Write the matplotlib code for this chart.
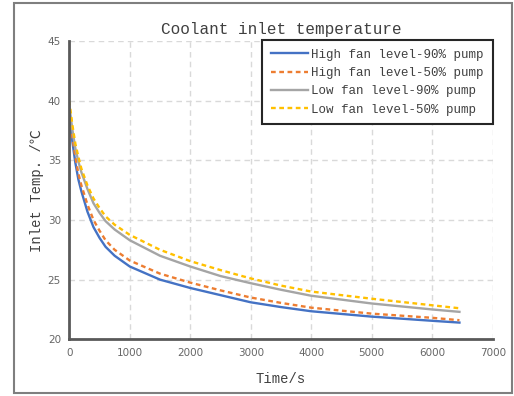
import matplotlib.pyplot as plt
from matplotlib.patches import Rectangle

# time points (s) and inlet temperatures
t = [0, 50, 100, 150, 200, 300, 400, 500, 600, 750, 1000, 1500, 2000, 2500, 3000, 3500, 4000, 5000, 6000, 6450]
high_90 = [39.0, 36.6, 34.8, 33.4, 32.4, 30.7, 29.4, 28.5, 27.75, 27.0, 26.1, 25.0, 24.3, 23.7, 23.1, 22.7, 22.35, 21.9, 21.55, 21.4]
high_50 = [39.3, 37.0, 35.3, 33.9, 32.9, 31.3, 30.0, 29.1, 28.3, 27.5, 26.6, 25.5, 24.75, 24.1, 23.5, 23.05, 22.65, 22.15, 21.8, 21.6]
low_90 = [39.6, 37.6, 36.0, 34.9, 34.0, 32.6, 31.4, 30.6, 29.9, 29.2, 28.3, 27.0, 26.1, 25.3, 24.7, 24.15, 23.65, 23.0, 22.5, 22.3]
low_50 = [40.0, 38.0, 36.4, 35.3, 34.3, 32.9, 31.8, 31.0, 30.3, 29.6, 28.75, 27.5, 26.55, 25.8, 25.1, 24.5, 24.0, 23.4, 22.85, 22.6]

labels = ["High fan level-90% pump", "High fan level-50% pump",
          "Low fan level-90% pump", "Low fan level-50% pump"]

mono = ['Liberation Mono', 'DejaVu Sans Mono', 'Noto Sans CJK SC']

fig = plt.figure(figsize=(5.14, 3.96), dpi=100)
# outer frame of the picture
fig.patches.append(Rectangle((14 / 514, 3 / 396), 498 / 514, 390 / 396,
                             transform=fig.transFigure, fill=False,
                             edgecolor='#7f7f7f', linewidth=1.5))

ax = fig.add_axes([0.1348, 0.1432, 0.8238, 0.7533])

ax.plot(t, high_90, color='#4472C4', lw=1.7, label=labels[0])
ax.plot(t, high_50, color='#ED7D31', lw=1.7, ls=(0, (2, 1.5)), label=labels[1])
ax.plot(t, low_90, color='#A5A5A5', lw=1.7, label=labels[2])
ax.plot(t, low_50, color='#FFC000', lw=1.7, ls=(0, (2, 1.5)), label=labels[3])

ax.set_xlim(0, 7000)
ax.set_ylim(20, 45)
ax.set_xticks(range(0, 7001, 1000))
ax.set_yticks(range(20, 46, 5))
ax.grid(True, ls=(0, (4, 3)), color='#d9d9d9', lw=1)
ax.set_axisbelow(True)
ax.tick_params(length=0, labelsize=7.5, labelcolor='#666666', pad=6)

for s in ['top', 'right']:
    ax.spines[s].set_visible(False)
for s in ['left', 'bottom']:
    ax.spines[s].set_color('#595959')
    ax.spines[s].set_linewidth(2)

ax.set_title("Coolant inlet temperature", family=mono, fontsize=11.5,
             color='#404040', pad=5)
ax.set_xlabel("Time/s", family=mono, fontsize=10, color='#404040', labelpad=10)
ax.set_ylabel("Inlet Temp. /℃", family=mono, fontsize=10, color='#404040', labelpad=3)

leg = ax.legend(loc='upper right', bbox_to_anchor=(1.0, 1.003),
                prop={'family': mono, 'size': 9}, fancybox=False,
                framealpha=1, edgecolor='#262626', handlelength=3.0,
                handletextpad=0.25, borderpad=0.7, labelspacing=0.5,
                borderaxespad=0)
leg.get_frame().set_linewidth(1.5)
for txt in leg.get_texts():
    txt.set_color('#404040')

fig.savefig("out.png", dpi=100)
